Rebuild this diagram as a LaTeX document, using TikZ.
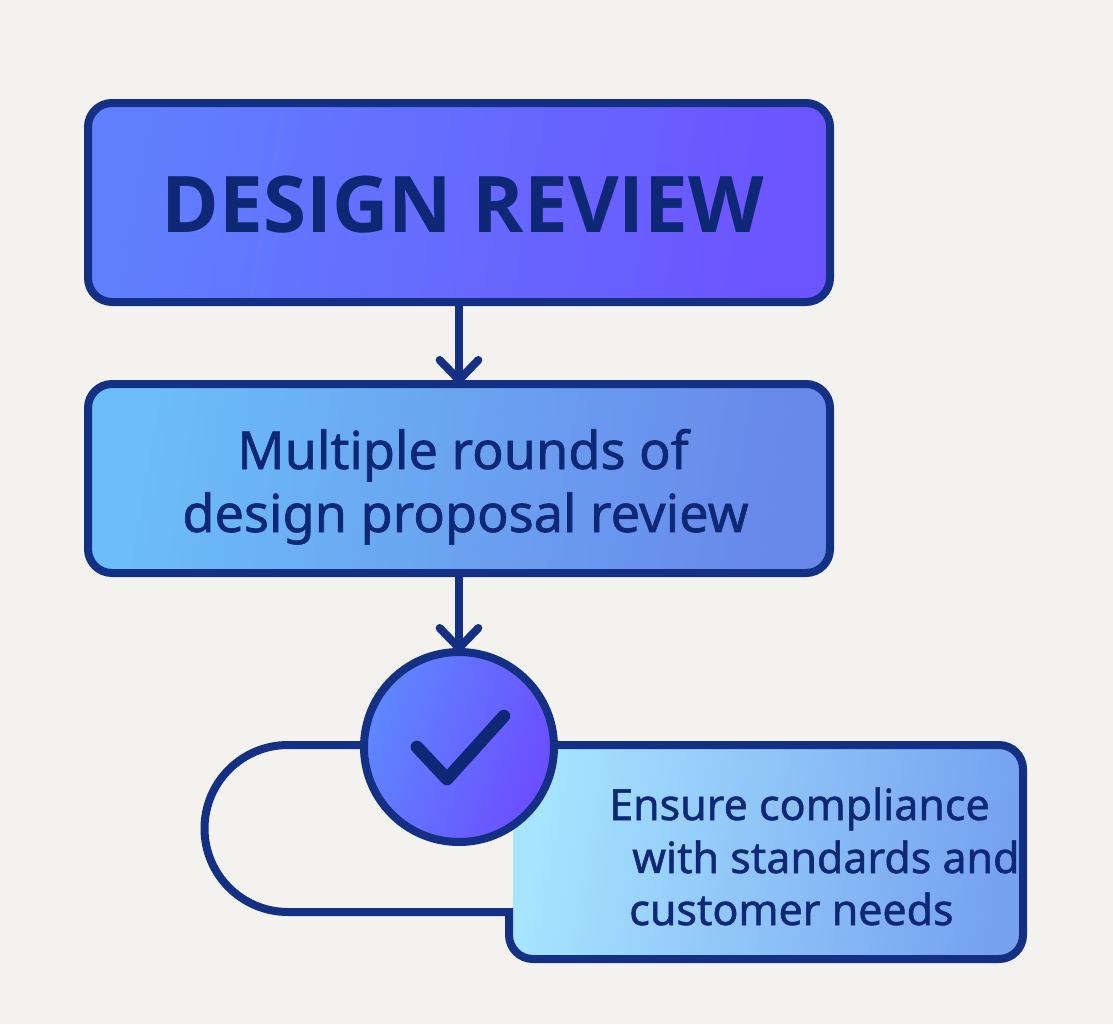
\documentclass[tikz,border=0pt]{standalone}
\usepackage{fontspec}
\setmainfont{Noto Sans}
\newfontfamily\mediumfont[FakeBold=1.2]{Noto Sans}
\newfontfamily\headfont{Open Sans}
\usetikzlibrary{arrows.meta}
\definecolor{paper}{RGB}{244,242,238}
\definecolor{inkline}{RGB}{20,48,132}
\definecolor{inktext}{RGB}{14,40,118}
\tikzset{
  boxline/.style={draw=inkline,line width=6pt},
  flowbox/.style={boxline,rounded corners=18pt,minimum width=556.5pt,inner sep=0pt,outer sep=0pt},
  flowarrow/.style={draw=inkline,line width=6pt,-{Straight Barb[length=15pt,width=29pt,line width=6pt,round]}},
  looptext/.style={anchor=base west,inner sep=0pt,text=inktext,font=\mediumfont\fontsize{32.2pt}{36pt}\selectfont},
  roundstext/.style={anchor=base,inner sep=0pt,text=inktext,font=\mediumfont\fontsize{39.2pt}{46pt}\selectfont}
}
\begin{document}
\begin{tikzpicture}[x=0.75pt,y=0.75pt,yscale=-1,xscale=1]
\useasboundingbox (0,0) rectangle (1113,1024);
\fill [paper] (0,0) rectangle (1113,1024);

%Shape: Lower Box Fill
\node (needsbox) [rounded corners=18pt,left color={rgb,255:red,166;green,228;blue,255},right color={rgb,255:red,118;green,162;blue,240},shading angle=80,minimum width=382.5pt,minimum height=160.5pt,inner sep=0pt,outer sep=0pt] at (768,852) {};

%Shape: Top Boxes
\node (designbox) [flowbox,left color={rgb,255:red,96;green,128;blue,255},right color={rgb,255:red,108;green,84;blue,255},shading angle=80,draw=inkline,minimum height=149.25pt] at (459,202.5) {};
\node (roundsbox) [flowbox,left color={rgb,255:red,108;green,190;blue,248},right color={rgb,255:red,104;green,136;blue,234},shading angle=80,draw=inkline,minimum height=141.75pt] at (459,478.5) {};

%Shape: Check Circle
\coordinate (loopstart) at (362,745);
\coordinate (loopend) at (555,745);

%Straight Lines
\draw [boxline] (loopstart) -- (288,745) arc (270:90:83.5) -- (509,912) [rounded corners=18pt] -- (509,959) -- (1023,959) -- (1023,745) -- (loopend);
\node (checkcircle) [circle,boxline,left color={rgb,255:red,94;green,136;blue,255},right color={rgb,255:red,108;green,76;blue,255},shading angle=70,minimum size=142.5pt,inner sep=0pt,outer sep=0pt] at (459,747) {};
\draw [draw=inktext,line width=9.5pt,line cap=round,line join=round] (417,747) -- (447,779) -- (504,716);

%Straight Lines
\draw [flowarrow] (designbox.south) -- (roundsbox.north);
\draw [flowarrow] (roundsbox.south) -- (checkcircle.north);

% Text Node
\node (designtext) [anchor=base,inner sep=0pt,text=inktext,font=\headfont\fontsize{58.6pt}{66pt}\selectfont\bfseries] at (463,232) {DESIGN REVIEW};
% Text Node
\node (roundsline) [roundstext] at (463,469) {Multiple rounds of};
\node (proposalline) [roundstext] at (465.5,532) {design proposal review};
% Text Node
\node (ensureline) [looptext] at (609,820) {Ensure compliance};
\node (withline) [looptext] at (632,873) {with standards and};
\node (customerline) [looptext] at (629,925) {customer needs};
\end{tikzpicture}
\end{document}
